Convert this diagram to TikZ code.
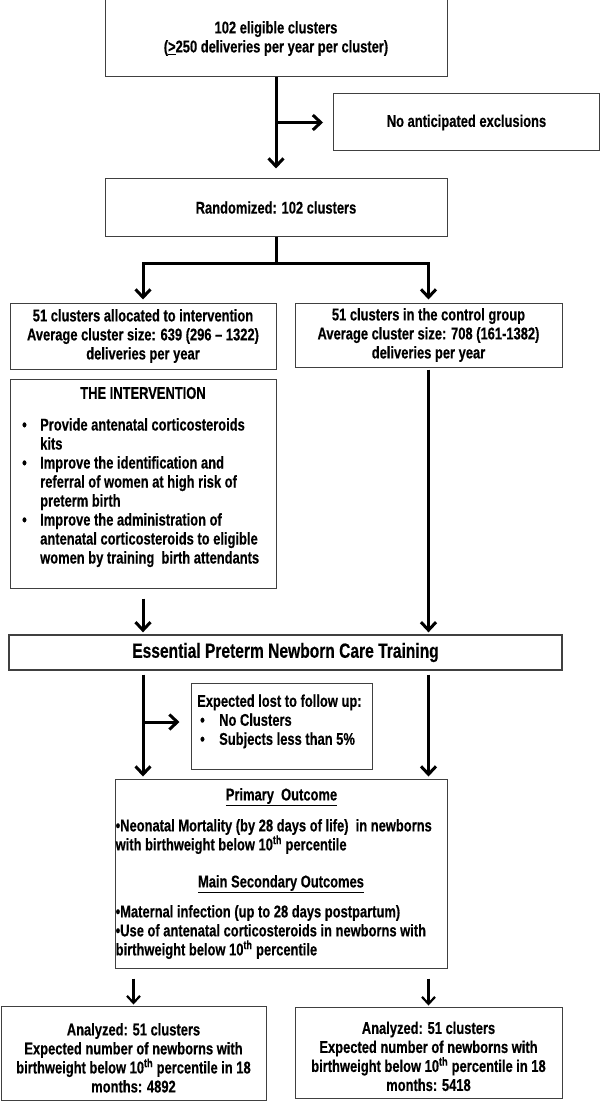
\documentclass[tikz,border=0pt]{standalone}
\usepackage{fontspec}
\setmainfont{Liberation Sans}[FakeStretch=0.76,FakeBold=0.4]
\usetikzlibrary{arrows.meta}
\newcommand\mf{\bfseries\fontsize{17}{19}\selectfont}
\newcommand\bigf{\bfseries\fontsize{20.5}{23}\selectfont}
\begin{document}
\begin{tikzpicture}[x=1pt,y=-1pt,
 box/.style={draw=black!75,line width=1pt,inner sep=0pt,align=center,font=\mf},
 txt/.style={inner sep=0pt,font=\mf},
 arr/.style={line width=3pt,-{Straight Barb[length=8pt,width=15pt]}},
 arrs/.style={line width=2.2pt,-{Straight Barb[length=7pt,width=13pt]}},
 ln/.style={line width=3pt}]
\useasboundingbox (0,0) rectangle (600,1102);
% boxes
\node[box,minimum width=342pt,minimum height=77pt] (elig) at (276,38.5)
  {102 eligible clusters\\(\underline{>}250 deliveries per year per cluster)};
\node[box,minimum width=266pt,minimum height=57pt] (excl) at (466.5,122.5)
  {No anticipated exclusions};
\node[box,minimum width=342pt,minimum height=57pt] (rand) at (276,207.5)
  {Randomized: 102 clusters};
\node[box,minimum width=266pt,minimum height=66pt] (ialloc) at (143,336)
  {51 clusters allocated to intervention\\Average cluster size: 639 (296 – 1322)\\deliveries per year};
\node[box,minimum width=267pt,minimum height=64pt] (calloc) at (428.5,335)
  {51 clusters in the control group\\Average cluster size: 708 (161-1382)\\deliveries per year};
\node[box,minimum width=266pt,minimum height=209pt] (interv) at (143,483.5) {};
\node[txt] (ititle) at (143,393) {THE INTERVENTION};
\node[txt,anchor=north west,align=left] (ilist) at (22,417)
  {\begin{tabular}{@{}p{18pt}@{}l@{}}
   •&Provide antenatal corticosteroids\\
    &kits\\
   •&Improve the identification and\\
    &referral of women at high risk of\\
    &preterm birth\\
   •&Improve the administration of\\
    &antenatal corticosteroids to eligible\\
    &women by training\ \ birth attendants
   \end{tabular}};
\node[box,font=\bigf,line width=1.3pt,minimum width=553pt,minimum height=35pt] (epnct) at (285.5,652.5)
  {Essential Preterm Newborn Care Training};
\node[box,minimum width=181pt,minimum height=86pt] (lost) at (281.5,726) {};
\node[txt,anchor=west,align=left] (losttxt) at (197,722)
  {\begin{tabular}{@{}p{22pt}@{}l@{}}
   \multicolumn{2}{@{}l@{}}{Expected lost to follow up:}\\
   \hspace*{3pt}•&No Clusters\\
   \hspace*{3pt}•&Subjects less than 5\%
   \end{tabular}};
\node[box,minimum width=332pt,minimum height=189pt] (outc) at (281,873.5) {};
\node[txt] (ph) at (281.5,797) {\underline{Primary\ \ Outcome}};
\node[txt,anchor=west,align=left] (pb) at (115.5,836.5)
  {•Neonatal Mortality (by 28 days of life)\ \ in newborns\\with birthweight below 10\textsuperscript{th} percentile};
\node[txt] (sh) at (281,884) {\underline{Main Secondary Outcomes}};
\node[txt,anchor=west,align=left] (sb) at (115.5,932)
  {•Maternal infection (up to 28 days postpartum)\\•Use of antenatal corticosteroids in newborns with\\birthweight below 10\textsuperscript{th} percentile};
\node[box,minimum width=265pt,minimum height=94pt] (bl) at (133.5,1053)
  {\rule{0pt}{22pt}Analyzed: 51 clusters\\Expected number of newborns with\\birthweight below 10\textsuperscript{th} percentile in 18\\months: 4892};
\node[box,minimum width=267pt,minimum height=91pt] (br) at (428.5,1052.5)
  {\rule{0pt}{20pt}Analyzed: 51 clusters\\Expected number of newborns with\\birthweight below 10\textsuperscript{th} percentile in 18\\months: 5418};
% connectors
\draw[arr,shorten >=10pt] (elig.south) -- (rand.north);
\coordinate (b1) at (elig.south |- excl.west);
\draw[arr,shorten >=10pt] (b1) -- (excl.west);
\coordinate (s) at (276,263);
\draw[ln] (rand.south) -- (s);
\draw[arr,shorten >=3pt] (s) -| (ialloc.north);
\draw[arr,shorten >=3pt] (s) -| (calloc.north);
\draw[arr,shorten <=10pt,shorten >=2pt] (interv.south) -- (interv.south |- epnct.north);
\draw[arr,shorten <=2pt,shorten >=2pt] (calloc.south) -- (calloc.south |- epnct.north);
\draw[arr,shorten <=4pt,shorten >=2pt] (interv.south |- epnct.south) -- (interv.south |- outc.north);
\draw[arr,shorten <=4pt,shorten >=2pt] (calloc.south |- epnct.south) -- (calloc.south |- outc.north);
\coordinate (b2) at (interv.south |- losttxt.west);
\draw[arr,shorten >=11pt] (b2) -- (b2 -| lost.west);
\draw[arrs,shorten <=10pt,shorten >=1pt] (outc.south -| bl.north) -- (bl.north);
\draw[arrs,shorten <=10pt,shorten >=1pt] (outc.south -| br.north) -- (br.north);
\end{tikzpicture}
\end{document}
